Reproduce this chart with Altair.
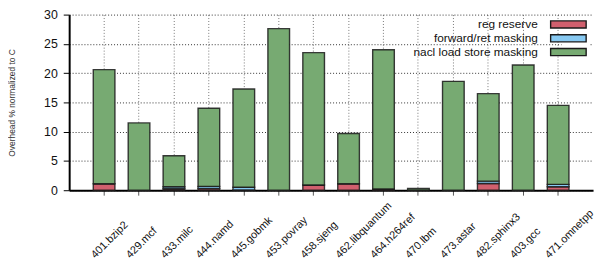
import altair as alt
import pandas as pd

benchmarks = ["401.bzip2", "429.mcf", "433.milc", "444.namd", "445.gobmk", "453.povray",
              "458.sjeng", "462.libquantum", "464.h264ref", "470.lbm", "473.astar",
              "482.sphinx3", "403.gcc", "471.omnetpp"]
reg_reserve = [1.1, 0.0, 0.25, 0.3, 0.05, 0.0, 0.9, 1.1, 0.2, 0.0, 0.0, 1.15, 0.0, 0.6]
fwd_ret_masking = [0.0, 0.0, 0.35, 0.35, 0.45, 0.0, 0.0, 0.0, 0.0, 0.0, 0.0, 0.4, 0.0, 0.4]
nacl_masking = [19.5, 11.5, 5.3, 13.35, 16.8, 27.6, 22.6, 8.6, 23.8, 0.3, 18.6, 14.95, 21.4, 13.5]
series = ["reg reserve", "forward/ret masking", "nacl load store masking"]
colors = ["#d0606e", "#87c9f2", "#77aa72"]
y_ticks = [0, 5, 10, 15, 20, 25, 30]

rows = []
for i, b in enumerate(benchmarks):
    for k, (s, vals) in enumerate(zip(series, [reg_reserve, fwd_ret_masking, nacl_masking])):
        rows.append({"bench": b, "series": s, "value": vals[i], "idx": k})
df = pd.DataFrame(rows)

FONT = "Liberation Sans"

chart = alt.Chart(df).mark_bar(
    stroke="#1a1a1a", strokeWidth=1.4, strokeOpacity=0.85
).encode(
    x=alt.X("bench:N", sort=benchmarks, title=None,
            scale=alt.Scale(paddingInner=0.38, paddingOuter=0.69),
            axis=alt.Axis(labelAngle=-45, labelAlign="left", labelBaseline="alphabetic",
                          labelOffset=-9, labelPadding=64, labelFontSize=11, labelFont=FONT,
                          labelColor="#111", labelOverlap=False, labelBound=False, labelFlush=False,
                          tickSize=5, tickColor="#555", tickWidth=1,
                          domainColor="#000", domainWidth=2,
                          grid=True, gridDash=[1, 2], gridColor="#777", gridWidth=1)),
    y=alt.Y("value:Q", stack="zero", title="Overhead % normalized to C",
            scale=alt.Scale(domain=[0, 30], nice=False),
            axis=alt.Axis(values=y_ticks, labelFontSize=12.5, labelFont=FONT, labelColor="#111",
                          labelPadding=6, tickSize=6, tickColor="#000",
                          domainColor="#000", domainWidth=2,
                          grid=True, gridDash=[1, 2], gridColor="#333", gridWidth=1,
                          titleFont=FONT, titleFontSize=8.5, titleFontWeight="normal",
                          titleColor="#333", titlePadding=27)),
    color=alt.Color("series:N", scale=alt.Scale(domain=series, range=colors),
                    legend=alt.Legend(title=None, orient="none", legendX=499, legendY=3,
                                      symbolType="M-3,-0.6H3V0.6H-3Z", symbolSize=144,
                                      symbolStrokeColor="#1a1a1a", symbolStrokeWidth=1.4,
                                      symbolOpacity=1,
                                      labelAlign="right", labelOffset={"expr": "-38"},
                                      labelFontSize=12,
                                      labelFont=FONT, labelColor="#111",
                                      rowPadding={"expr": "-4.3"},
                                      fillColor="white", padding=0)),
    order=alt.Order("idx:Q"),
).properties(
    width=531, height=178,
    padding={"left": 62, "top": 5, "right": 4, "bottom": 68},
    autosize=alt.AutoSizeParams(type="none"),
).configure_view(stroke=None)

chart.save("out.html", embed_options={"renderer": "svg", "actions": False})
